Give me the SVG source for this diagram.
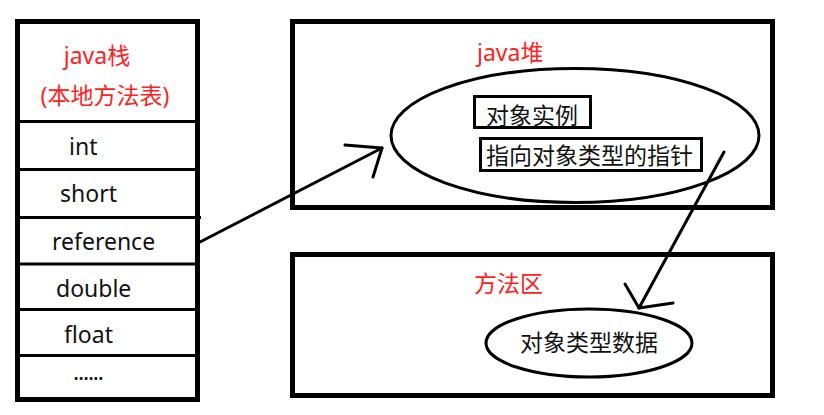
<svg xmlns="http://www.w3.org/2000/svg" width="824" height="415" viewBox="0 0 824 415">
  <style>
    .frame { fill: none; stroke: #000; stroke-width: 5; }
    .row { stroke: #000; stroke-width: 3; }
    .oval { fill: none; stroke: #000; stroke-width: 3; }
    .box { fill: none; stroke: #000; stroke-width: 3; }
    .link { fill: none; stroke: #000; stroke-width: 3; stroke-linecap: round; stroke-linejoin: round; }
    text { font-family: "Noto Sans", "Noto Sans CJK SC", sans-serif; font-size: 23px; fill: #111; }
    .title { fill: #ff2222; }
  </style>

  <rect width="824" height="415" fill="#fff"/>

  <!-- Java stack with its local variable slots -->
  <g id="java-stack">
    <rect class="frame" x="17.5" y="21.5" width="180" height="378"/>
    <text class="title" x="97" y="64" text-anchor="middle">java栈</text>
    <text class="title" x="105" y="104" text-anchor="middle">(本地方法表)</text>
    <line class="row" x1="17" y1="121.5" x2="198" y2="121.5"/>
    <line class="row" x1="17" y1="169.5" x2="198" y2="169.5"/>
    <line class="row" x1="17" y1="217.5" x2="201" y2="217.5"/>
    <line class="row" x1="17" y1="264" x2="198" y2="264"/>
    <line class="row" x1="17" y1="309.5" x2="198" y2="309.5"/>
    <line class="row" x1="17" y1="355.5" x2="198" y2="355.5"/>
  </g>
  <g id="slot-int"><text x="69" y="155">int</text></g>
  <g id="slot-short"><text x="60" y="202">short</text></g>
  <g id="slot-reference"><text x="52" y="250">reference</text></g>
  <g id="slot-double"><text x="56" y="297">double</text></g>
  <g id="slot-float"><text x="64" y="343">float</text></g>
  <g id="slot-more"><text x="73" y="380" letter-spacing="-1.2">......</text></g>

  <!-- Java heap -->
  <g id="java-heap">
    <rect class="frame" x="292.5" y="21.5" width="480" height="186"/>
    <text class="title" x="477" y="61">java堆</text>
  </g>
  <g id="heap-object">
    <ellipse class="oval" cx="575" cy="135.5" rx="184" ry="67"/>
  </g>
  <g id="instance-data">
    <rect class="box" x="474.5" y="96.5" width="116" height="31"/>
    <text x="486" y="124">对象实例</text>
  </g>
  <g id="type-pointer">
    <rect class="box" x="480.5" y="138.5" width="221" height="32"/>
    <text x="486" y="164">指向对象类型的指针</text>
  </g>

  <!-- Method area -->
  <g id="method-area">
    <rect class="frame" x="292.5" y="254.5" width="480" height="141"/>
    <text class="title" x="474" y="292">方法区</text>
  </g>
  <g id="type-data">
    <ellipse class="oval" cx="589" cy="343" rx="103" ry="34"/>
    <text x="589" y="351" text-anchor="middle">对象类型数据</text>
  </g>

  <!-- Connectors -->
  <g id="connectors">
    <path class="link" d="M200,242 L382,148"/>
    <path class="link" d="M345,145 L382,148 L373,177"/>
    <path class="link" d="M724,152 L639,308"/>
    <path class="link" d="M625,284 L639,308 L673,303"/>
  </g>
</svg>
